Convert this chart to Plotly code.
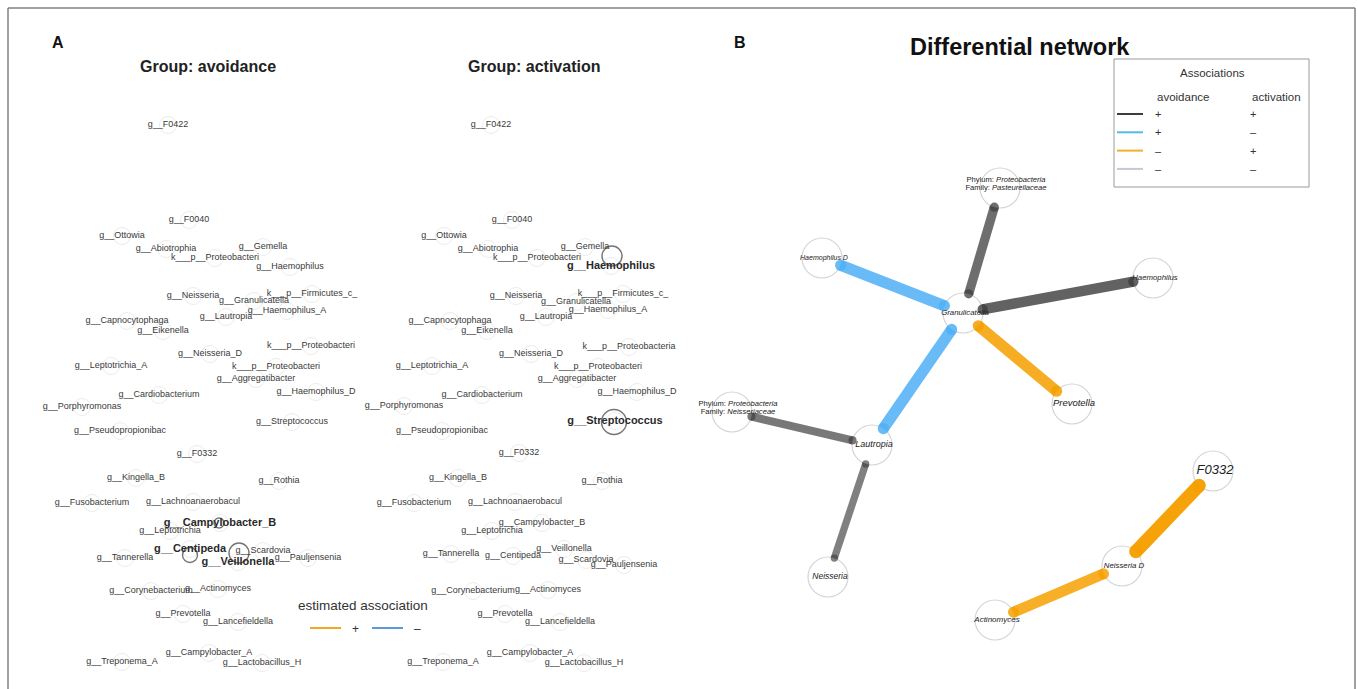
import math
import plotly.graph_objects as go

FONT = "Liberation Sans, Arial, Helvetica, sans-serif"
W, H = 1358, 689

# ---------------- Panel A: group-specific association networks ----------------
taxa = [
    "g__F0422", "g__F0040", "g__Ottowia", "g__Abiotrophia", "g__Gemella",
    "k___p__Proteobacteri", "g__Haemophilus", "g__Neisseria", "k___p__Firmicutes_c_",
    "g__Granulicatella", "g__Haemophilus_A", "g__Lautropia", "g__Capnocytophaga",
    "g__Eikenella", "k___p__Proteobacteri", "g__Neisseria_D", "g__Leptotrichia_A",
    "k___p__Proteobacteri", "g__Aggregatibacter", "g__Cardiobacterium",
    "g__Haemophilus_D", "g__Porphyromonas", "g__Streptococcus", "g__Pseudopropionibac",
    "g__F0332", "g__Kingella_B", "g__Rothia", "g__Fusobacterium", "g__Lachnoanaerobacul",
    "g__Campylobacter_B", "g__Leptotrichia", "g__Centipeda", "g__Tannerella",
    "g__Scardovia", "g__Veillonella", "g__Pauljensenia", "g__Corynebacterium",
    "g__Actinomyces", "g__Prevotella", "g__Lancefieldella", "g__Campylobacter_A",
    "g__Treponema_A", "g__Lactobacillus_H",
]
activ_labels = list(taxa)
activ_labels[14] = "k___p__Proteobacteria"

# layout coordinates of the node labels
avoid_x = [168, 189, 122, 166, 263, 215, 290, 193, 312, 254, 287, 226, 127, 163, 311,
           210, 111, 276, 256, 159, 316, 82, 292, 120, 197, 136, 279, 92, 193, 220,
           170, 190, 125, 263, 238, 308, 151, 218, 183, 238, 209, 122, 262]
avoid_y = [125, 220, 236, 249, 247, 258, 267, 296, 294, 301, 311, 317, 321, 331, 346,
           354, 366, 367, 379, 395, 392, 407, 422, 431, 454, 478, 481, 503, 502, 523,
           531, 549, 558, 551, 562, 558, 591, 589, 614, 622, 653, 662, 663]
activ_x = [491, 512, 444, 488, 585, 537, 611, 516, 623, 576, 608, 546, 450, 487, 629,
           531, 432, 598, 577, 482, 637, 404, 615, 442, 519, 458, 602, 414, 515, 542,
           492, 513, 451, 586, 564, 624, 473, 548, 505, 560, 530, 443, 584]
activ_y = [125, 220, 236, 249, 247, 258, 266, 296, 294, 302, 310, 317, 321, 331, 347,
           354, 366, 367, 379, 395, 392, 406, 421, 431, 453, 478, 481, 503, 502, 523,
           531, 556, 554, 560, 549, 565, 591, 590, 614, 622, 653, 662, 663]

# hub taxa of each group: node position and degree
avoid_hubs = ["g__Campylobacter_B", "g__Centipeda", "g__Veillonella"]
avoid_hub_x = [219, 190, 239]
avoid_hub_y = [523, 555, 553]
avoid_hub_degree = [2, 3, 4]
activ_hubs = ["g__Haemophilus", "g__Streptococcus"]
activ_hub_x = [612, 614]
activ_hub_y = [256, 422]
activ_hub_degree = [4, 5]

group_titles = ["Group: avoidance", "Group: activation"]
group_title_x = [208, 534]

# ---------------- Panel B: differential network ----------------
diff_nodes = ["Pasteurellaceae", "Haemophilus_D", "Granulicatella", "Haemophilus",
              "Prevotella", "Neisseriaceae", "Lautropia", "Neisseria", "F0332",
              "Neisseria_D", "Actinomyces"]
diff_labels = ["Phylum: <i>Proteobacteria</i>|Family: <i>Pasteurellaceae</i>",
               "<i>Haemophilus D</i>", "<i>Granulicatella</i>", "<i>Haemophilus</i>",
               "<i>Prevotella</i>",
               "Phylum: <i>Proteobacteria</i>|Family: <i>Neisseriaceae</i>",
               "<i>Lautropia</i>", "<i>Neisseria</i>", "<i>F0332</i>",
               "<i>Neisseria D</i>", "<i>Actinomyces</i>"]
diff_x = [1000, 822, 963, 1153, 1072, 732, 872, 828, 1213, 1122, 995]
diff_y = [188, 258, 313, 278, 404, 412, 445, 577, 471, 566, 620]

edge_from = ["Granulicatella", "Granulicatella", "Granulicatella", "Granulicatella",
             "Granulicatella", "Lautropia", "Lautropia", "Neisseria_D", "Neisseria_D"]
edge_to = ["Pasteurellaceae", "Haemophilus_D", "Haemophilus", "Prevotella",
           "Lautropia", "Neisseriaceae", "Neisseria", "F0332", "Actinomyces"]
# association type: 1 = (+,+), 2 = (+,-), 3 = (-,+), 4 = (-,-)
edge_type = [1, 2, 1, 3, 2, 1, 1, 3, 3]
edge_weight = [0.66, 0.80, 0.74, 0.80, 0.80, 0.58, 0.52, 0.95, 0.78]

assoc_avoid = ["+", "+", "\u2013", "\u2013"]
assoc_activ = ["+", "\u2013", "+", "\u2013"]

# ---------------- styles ----------------
TYPE_RGB = {1: (64, 64, 64), 2: (79, 176, 245), 3: (245, 160, 0), 4: (200, 195, 214)}
LEGEND_COL = ["#3d3d3d", "#55b9ec", "#efb02e", "#cbc6d6"]
NODE_R = 20
LABEL_SIZE = {"Pasteurellaceae": 7.6, "Neisseriaceae": 7.6, "Haemophilus_D": 7,
              "Granulicatella": 7.8, "Haemophilus": 7.8, "Prevotella": 9.5,
              "Lautropia": 9, "Neisseria": 8.5, "F0332": 13, "Neisseria_D": 7.8,
              "Actinomyces": 8}

fig = go.Figure()
shapes = []
annotations = []


def text_trace(xs, ys, texts, size, color="#333333", weight="normal"):
    return go.Scatter(x=xs, y=ys, text=texts, mode="text", textposition="middle center",
                      textfont=dict(family=FONT, size=size, color=color, weight=weight),
                      hoverinfo="skip", showlegend=False)


# --- Panel A networks ---
for labels, xs, ys, hubs, hx, hy, hdeg in [
    (taxa, avoid_x, avoid_y, avoid_hubs, avoid_hub_x, avoid_hub_y, avoid_hub_degree),
    (activ_labels, activ_x, activ_y, activ_hubs, activ_hub_x, activ_hub_y, activ_hub_degree),
]:
    # faint node outlines
    fig.add_trace(go.Scatter(x=xs, y=ys, mode="markers",
                             marker=dict(symbol="circle-open", size=17, color="#ececec",
                                         line=dict(width=1)),
                             hoverinfo="skip", showlegend=False))
    # hub node outlines
    fig.add_trace(go.Scatter(x=hx, y=hy, mode="markers",
                             marker=dict(symbol="circle-open", size=[5 * d for d in hdeg],
                                         color="#3a3a3a", line=dict(width=1.4)),
                             hoverinfo="skip", showlegend=False))
    norm = [i for i, t in enumerate(labels) if t not in hubs]
    bold = [i for i, t in enumerate(labels) if t in hubs]
    fig.add_trace(text_trace([xs[i] for i in norm], [ys[i] for i in norm],
                             [labels[i] for i in norm], 9, "#3a3a3a"))
    fig.add_trace(text_trace([xs[i] for i in bold], [ys[i] for i in bold],
                             [labels[i] for i in bold], 11, "#2a2a2a", "bold"))

for title, tx in zip(group_titles, group_title_x):
    annotations.append(dict(x=tx, y=66, text=f"<b>{title}</b>",
                            showarrow=False, font=dict(family=FONT, size=16, color="#222"),
                            xanchor="center", yanchor="middle"))

# legend of panel A
annotations.append(dict(x=363, y=605, text="estimated association", showarrow=False,
                        font=dict(family=FONT, size=13.5, color="#333"),
                        xanchor="center", yanchor="middle"))
shapes.append(dict(type="line", x0=310, x1=341, y0=628, y1=628,
                   line=dict(color="#f5a623", width=2)))
shapes.append(dict(type="line", x0=372, x1=403, y0=628, y1=628,
                   line=dict(color="#5a9ad8", width=2)))
annotations.append(dict(x=355, y=629, text="+", showarrow=False,
                        font=dict(family=FONT, size=12, color="#333")))
annotations.append(dict(x=417, y=629, text="\u2013", showarrow=False,
                        font=dict(family=FONT, size=12, color="#333")))

# --- Panel B differential network ---
pos = {n: (x, y) for n, x, y in zip(diff_nodes, diff_x, diff_y)}

fig.add_trace(go.Scatter(x=diff_x, y=diff_y, mode="markers",
                         marker=dict(symbol="circle-open", size=2 * NODE_R, color="#d4d4d4",
                                     line=dict(width=1.2)),
                         hoverinfo="skip", showlegend=False))

for a, b, t, w in zip(edge_from, edge_to, edge_type, edge_weight):
    (x0, y0), (x1, y1) = pos[a], pos[b]
    d = math.hypot(x1 - x0, y1 - y0)
    ux, uy = (x1 - x0) / d, (y1 - y0) / d
    xa, ya = x0 + ux * NODE_R, y0 + uy * NODE_R
    xb, yb = x1 - ux * NODE_R, y1 - uy * NODE_R
    r, g, bl = TYPE_RGB[t]
    col = f"rgba({r},{g},{bl},{0.3 + 0.7 * w:.3f})"
    width = 14 * w
    fig.add_trace(go.Scatter(x=[xa, xb], y=[ya, yb], mode="lines+markers",
                             line=dict(color=col, width=width),
                             marker=dict(color=col, size=width, line=dict(width=0)),
                             hoverinfo="skip", showlegend=False))

for n, lab in zip(diff_nodes, diff_labels):
    x, y = pos[n]
    lines = lab.split("|")
    size = LABEL_SIZE[n]
    if len(lines) == 1:
        fig.add_trace(text_trace([x + 2], [y], [lab], size, "#222222"))
    else:
        fig.add_trace(text_trace([x + 6] * 2, [y - 8, y], lines, size, "#222222"))

annotations.append(dict(x=1020, y=47, text="<b>Differential network</b>", showarrow=False,
                        font=dict(family=FONT, size=23.5, color="#111"),
                        xanchor="center", yanchor="middle"))

# legend of panel B
shapes.append(dict(type="rect", x0=1114, x1=1309, y0=59, y1=187,
                   line=dict(color="#9a9a9a", width=1), fillcolor="rgba(0,0,0,0)"))
annotations.append(dict(x=1212, y=73, text="Associations", showarrow=False,
                        font=dict(family=FONT, size=11.5, color="#333")))
annotations.append(dict(x=1155, y=97, text="avoidance", showarrow=False, xanchor="left",
                        font=dict(family=FONT, size=11.5, color="#333")))
annotations.append(dict(x=1250, y=97, text="activation", showarrow=False, xanchor="left",
                        font=dict(family=FONT, size=11.5, color="#333")))
for k, (sa, sb, c) in enumerate(zip(assoc_avoid, assoc_activ, LEGEND_COL)):
    yy = 114 + 18.3 * k
    shapes.append(dict(type="line", x0=1117, x1=1143, y0=yy, y1=yy,
                       line=dict(color=c, width=2)))
    annotations.append(dict(x=1158, y=yy, text=sa, showarrow=False,
                            font=dict(family=FONT, size=11, color="#333")))
    annotations.append(dict(x=1253, y=yy, text=sb, showarrow=False,
                            font=dict(family=FONT, size=11, color="#333")))

# panel letters
for letter, lx in [("A", 58), ("B", 740)]:
    annotations.append(dict(x=lx, y=42, text=f"<b>{letter}</b>", showarrow=False,
                            font=dict(family=FONT, size=16, color="#111")))

# outer frame
for x0, y0, x1, y1 in [(8, 8, 1355, 8), (8, 8, 8, 700), (1355, 8, 1355, 700)]:
    shapes.append(dict(type="line", x0=x0, y0=y0, x1=x1, y1=y1,
                       line=dict(color="#808080", width=1.5)))

fig.update_layout(
    width=W, height=H, margin=dict(l=0, r=0, t=0, b=0, pad=0),
    paper_bgcolor="white", plot_bgcolor="white",
    xaxis=dict(range=[0, W], visible=False, fixedrange=True),
    yaxis=dict(range=[H, 0], visible=False, fixedrange=True),
    shapes=shapes, annotations=annotations, showlegend=False,
)

fig.write_html("out.html")
